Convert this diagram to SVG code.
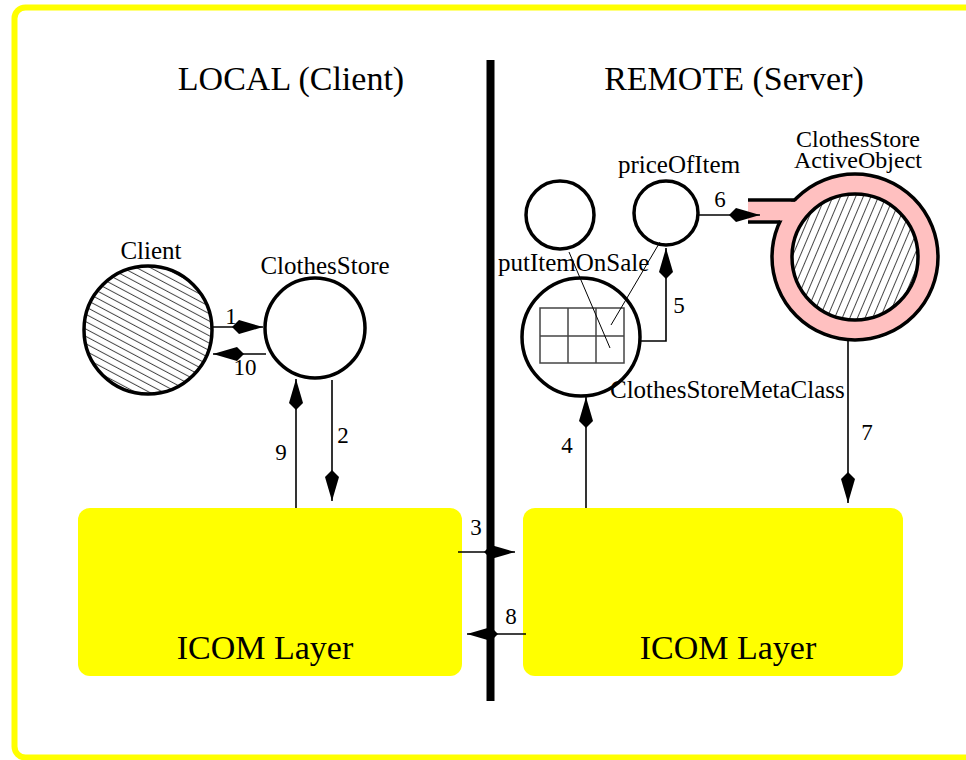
<svg xmlns="http://www.w3.org/2000/svg" width="966" height="760" viewBox="0 0 966 760">
<style>
text{font-family:"Liberation Serif","Times New Roman",serif;fill:#000}
.title{font-size:34px;text-anchor:middle}
.lbl{font-size:25px}
.num{font-size:23px;text-anchor:middle}
.icom{font-size:34px;text-anchor:middle}
.node{stroke:#000;stroke-width:3.5;fill:#fff}
.conn{stroke:#000;stroke-width:1.6;fill:none}
.thin{stroke:#000;stroke-width:1;fill:none}
.box{fill:#ffff00}
</style>
<defs>
<marker id="ah" viewBox="-32 -8 33 16" markerWidth="33" markerHeight="16" refX="0" refY="0" markerUnits="userSpaceOnUse" orient="auto">
<path d="M0,0 L-24,-7 L-31,0 L-24,7 Z" fill="#000"/>
</marker>
<pattern id="hatchA" width="6.5" height="6.5" patternUnits="userSpaceOnUse" patternTransform="rotate(28)">
<rect width="6.5" height="6.5" fill="#fff"/>
<line x1="0" y1="3.2" x2="6.5" y2="3.2" stroke="#333" stroke-width="0.9"/>
</pattern>
<pattern id="hatchB" width="7" height="7" patternUnits="userSpaceOnUse" patternTransform="rotate(-67)">
<rect width="7" height="7" fill="#fff"/>
<line x1="0" y1="3.5" x2="7" y2="3.5" stroke="#333" stroke-width="0.9"/>
</pattern>
</defs>
<rect x="14.5" y="7.5" width="970" height="750" rx="11" fill="#fff" stroke="#ffff00" stroke-width="6"/>
<text class="title" x="291" y="90">LOCAL (Client)</text>
<text class="title" x="734" y="90">REMOTE (Server)</text>
<rect id="divider" x="486.5" y="60" width="8" height="641" fill="#000"/>
<g id="icom-local">
<rect class="box" x="78" y="508" width="384" height="168" rx="12"/>
<text class="icom" x="265" y="659">ICOM Layer</text>
</g>
<g id="icom-remote">
<rect class="box" x="523" y="508" width="380" height="168" rx="12"/>
<text class="icom" x="728" y="659">ICOM Layer</text>
</g>
<g id="client">
<circle cx="148" cy="330" r="64" fill="url(#hatchA)" stroke="#000" stroke-width="3.5"/>
<text class="lbl" x="151" y="259" text-anchor="middle">Client</text>
</g>
<g id="clothesstore">
<circle class="node" cx="315" cy="328" r="50"/>
<text class="lbl" x="325" y="274" text-anchor="middle">ClothesStore</text>
</g>
<g id="putitemonsale">
<circle class="node" cx="560" cy="215" r="34"/>
<text class="lbl" x="498" y="271">putItemOnSale</text>
</g>
<g id="priceofitem">
<circle class="node" cx="666" cy="213" r="32"/>
<text class="lbl" x="679" y="173" text-anchor="middle">priceOfItem</text>
</g>
<g id="metaclass">
<circle class="node" cx="581" cy="337" r="59"/>
<g stroke="#444" stroke-width="1.5" fill="none">
<rect x="540" y="308" width="84" height="55"/>
<line x1="540" y1="336" x2="624" y2="336"/>
<line x1="568" y1="308" x2="568" y2="363"/>
<line x1="596" y1="308" x2="596" y2="363"/>
</g>
<line class="thin" x1="569" y1="252" x2="610" y2="348"/>
<line class="thin" x1="660" y1="242" x2="611" y2="325"/>
<text class="lbl" x="610" y="398">ClothesStoreMetaClass</text>
</g>
<g id="activeobject">
<circle cx="855" cy="257" r="83" fill="#ffc0c0" stroke="#000" stroke-width="3.5"/>
<rect x="748" y="201.5" width="52" height="19" fill="#ffc0c0"/>
<line x1="748" y1="200" x2="795" y2="200" stroke="#000" stroke-width="3.5"/>
<line x1="748" y1="222" x2="780" y2="222" stroke="#000" stroke-width="3.5"/>
<circle cx="855" cy="257" r="63" fill="url(#hatchB)" stroke="#000" stroke-width="3.5"/>
<text x="858" y="147" text-anchor="middle" style="font-size:24px">ClothesStore</text>
<text x="858" y="168" text-anchor="middle" style="font-size:24px">ActiveObject</text>
</g>
<g id="connectors">
<path class="conn" d="M213,327 H263" marker-end="url(#ah)"/>
<text class="num" x="231" y="324">1</text>
<path class="conn" d="M266,354 H213" marker-end="url(#ah)"/>
<text class="num" x="245" y="375">10</text>
<path class="conn" d="M332,380 V501" marker-end="url(#ah)"/>
<text class="num" x="343" y="443">2</text>
<path class="conn" d="M296,508 V379" marker-end="url(#ah)"/>
<text class="num" x="281" y="460">9</text>
<path class="conn" d="M458,552 H515" marker-end="url(#ah)"/>
<text class="num" x="476" y="535">3</text>
<path class="conn" d="M526,634 H467" marker-end="url(#ah)"/>
<text class="num" x="511" y="624">8</text>
<path class="conn" d="M586,508 V397" marker-end="url(#ah)"/>
<text class="num" x="567" y="453">4</text>
<path class="conn" d="M640,341 H666 V248" marker-end="url(#ah)"/>
<text class="num" x="679" y="313">5</text>
<path class="conn" d="M699,215 H760" marker-end="url(#ah)"/>
<text class="num" x="720" y="207">6</text>
<path class="conn" d="M848,340 V503" marker-end="url(#ah)"/>
<text class="num" x="867" y="440">7</text>
</g>
</svg>
